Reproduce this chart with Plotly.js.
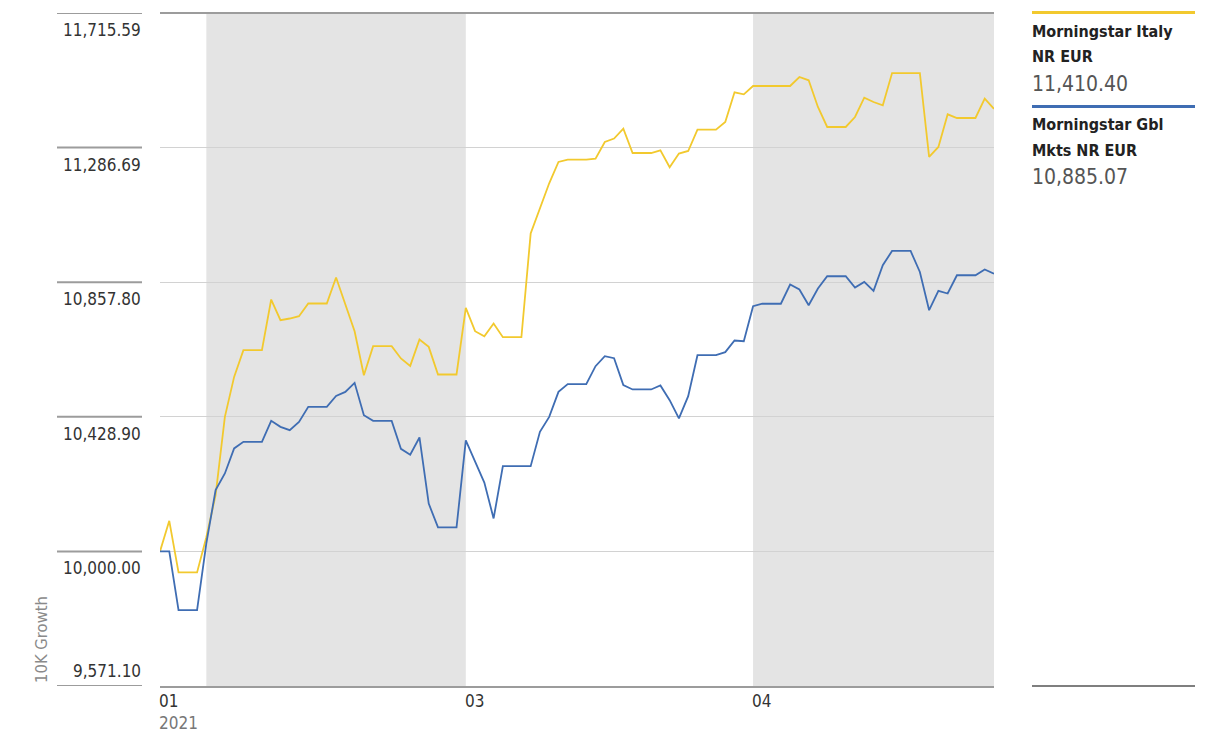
<!DOCTYPE html>
<html>
<head>
<meta charset="utf-8">
<script src="https://cdn.plot.ly/plotly-3.0.1.min.js"></script>
<style>
  html, body { margin: 0; padding: 0; background: #ffffff; }
  #chart { width: 1206px; height: 746px; }
</style>
</head>
<body>
<div id="chart"></div>
<script>
// ---------------- DATA ----------------
const dates = [
  '2021-01-27','2021-01-28','2021-01-29','2021-01-30','2021-01-31',
  '2021-02-01','2021-02-02','2021-02-03','2021-02-04','2021-02-05','2021-02-06','2021-02-07',
  '2021-02-08','2021-02-09','2021-02-10','2021-02-11','2021-02-12','2021-02-13','2021-02-14',
  '2021-02-15','2021-02-16','2021-02-17','2021-02-18','2021-02-19','2021-02-20','2021-02-21',
  '2021-02-22','2021-02-23','2021-02-24','2021-02-25','2021-02-26','2021-02-27','2021-02-28',
  '2021-03-01','2021-03-02','2021-03-03','2021-03-04','2021-03-05','2021-03-06','2021-03-07',
  '2021-03-08','2021-03-09','2021-03-10','2021-03-11','2021-03-12','2021-03-13','2021-03-14',
  '2021-03-15','2021-03-16','2021-03-17','2021-03-18','2021-03-19','2021-03-20','2021-03-21',
  '2021-03-22','2021-03-23','2021-03-24','2021-03-25','2021-03-26','2021-03-27','2021-03-28',
  '2021-03-29','2021-03-30','2021-03-31',
  '2021-04-01','2021-04-02','2021-04-03','2021-04-04','2021-04-05','2021-04-06','2021-04-07',
  '2021-04-08','2021-04-09','2021-04-10','2021-04-11','2021-04-12','2021-04-13','2021-04-14',
  '2021-04-15','2021-04-16','2021-04-17','2021-04-18','2021-04-19','2021-04-20','2021-04-21',
  '2021-04-22','2021-04-23','2021-04-24','2021-04-25','2021-04-26','2021-04-27'
];

const italyNR = [
  10000.0, 10097.5, 9933.1, 9933.1, 9933.1,
  10045.0, 10179.3, 10428.7, 10556.1, 10641.1, 10641.1, 10641.1,
  10802.6, 10736.7, 10742.1, 10749.4, 10789.9, 10789.9, 10789.9,
  10872.7, 10787.7, 10701.7, 10561.5, 10653.9, 10653.9, 10653.9,
  10614.7, 10591.1, 10675.2, 10651.7, 10563.7, 10563.7, 10563.7,
  10775.9, 10701.7, 10685.7, 10726.2, 10682.5, 10682.5, 10682.5,
  11012.8, 11093.4, 11173.0, 11240.9, 11248.5, 11248.5, 11248.5,
  11251.7, 11304.6, 11315.4, 11347.3, 11269.5, 11269.5, 11269.5,
  11278.1, 11224.0, 11267.6, 11275.9, 11344.1, 11344.1, 11344.1,
  11368.3, 11462.9, 11456.5,
  11482.9, 11482.9, 11482.9, 11482.9, 11482.9, 11511.6, 11501.1,
  11416.1, 11352.4, 11352.4, 11352.4, 11384.2, 11446.0, 11432.0,
  11421.5, 11524.3, 11524.3, 11524.3, 11524.3, 11256.8, 11288.7,
  11392.8, 11381.0, 11381.0, 11381.0, 11442.8, 11410.40
];

const gblMktsNR = [
  10000.0, 10000.0, 9813.0, 9813.0, 9813.0,
  10025.5, 10195.2, 10248.4, 10328.1, 10349.1, 10349.1, 10349.1,
  10416.0, 10396.9, 10386.3, 10412.8, 10460.6, 10460.6, 10460.6,
  10495.6, 10508.3, 10537.0, 10434.1, 10416.0, 10416.0, 10416.0,
  10326.8, 10308.3, 10363.1, 10152.2, 10076.4, 10076.4, 10076.4,
  10353.5, 10286.0, 10219.1, 10105.1, 10271.7, 10271.7, 10271.7,
  10271.7, 10380.9, 10428.7, 10508.3, 10532.9, 10532.9, 10532.9,
  10590.2, 10622.0, 10615.7, 10529.7, 10516.0, 10516.0, 10516.0,
  10528.7, 10481.9, 10423.6, 10494.6, 10625.2, 10625.2, 10625.2,
  10634.8, 10672.0, 10669.8,
  10781.3, 10789.2, 10789.2, 10789.2, 10850.4, 10834.5, 10784.5,
  10837.7, 10876.8, 10876.8, 10876.8, 10840.8, 10858.7, 10830.0,
  10911.9, 10957.4, 10957.4, 10957.4, 10890.5, 10768.5, 10830.0,
  10821.7, 10880.0, 10880.0, 10880.0, 10898.2, 10885.07
];

const seriesNameLines = [
  ['Morningstar Italy', 'NR EUR'],
  ['Morningstar Gbl', 'Mkts NR EUR']
];
const seriesLastText = ['11,410.40', '10,885.07'];

const yTickVals = [9571.10, 10000.00, 10428.90, 10857.80, 11286.69, 11715.59];
const yTickText = ['9,571.10', '10,000.00', '10,428.90', '10,857.80', '11,286.69', '11,715.59'];
const yAxisTitle = '10K Growth';

const xTickDates = ['2021-01-27', '2021-03-01', '2021-04-01'];
const xTickText  = ['01', '03', '04'];
const xTickYear  = ['2021', '', ''];

const shadeStart = ['2021-02-01', '2021-04-01'];
const shadeEnd   = ['2021-03-01', '2021-04-27'];

// ---------------- STYLE ----------------
const FONT = "'Liberation Sans Narrow', 'Arial Narrow', 'DejaVu Sans Condensed', sans-serif";
const YELLOW = '#F2C92E';
const BLUE = '#3F6DB3';
const colors = [YELLOW, BLUE];
const pxToPaperY = (py) => (686 - py) / 673;
const pxToPaperX = (px) => (px - 160) / 834;

const traces = [
  { x: dates, y: italyNR, type: 'scatter', mode: 'lines',
    line: { color: YELLOW, width: 1.8 }, hoverinfo: 'skip', name: seriesNameLines[0].join(' ') },
  { x: dates, y: gblMktsNR, type: 'scatter', mode: 'lines',
    line: { color: BLUE, width: 1.8 }, hoverinfo: 'skip', name: seriesNameLines[1].join(' ') }
];

const shapes = [];
shadeStart.forEach((s, i) => {
  shapes.push({ type: 'rect', xref: 'x', yref: 'paper', x0: s, x1: shadeEnd[i], y0: 0, y1: 1,
    fillcolor: '#e4e4e4', line: { width: 0 }, layer: 'below' });
});
// top frame line
shapes.push({ type: 'line', xref: 'paper', yref: 'paper', x0: 0, x1: 1, y0: 1, y1: 1,
  line: { color: '#9c9c9c', width: 2 } });
// left label rules
yTickVals.forEach(v => {
  shapes.push({ type: 'line', xref: 'paper', yref: 'y', x0: pxToPaperX(57), x1: pxToPaperX(142), y0: v, y1: v,
    line: { color: '#9c9c9c', width: 2 } });
});
// legend rules
const legendRuleY = [12.5, 106.5];
legendRuleY.forEach((py, i) => {
  shapes.push({ type: 'line', xref: 'paper', yref: 'paper', x0: pxToPaperX(1032), x1: pxToPaperX(1195),
    y0: pxToPaperY(py), y1: pxToPaperY(py), line: { color: colors[i], width: 3 } });
});
shapes.push({ type: 'line', xref: 'paper', yref: 'paper', x0: pxToPaperX(1032), x1: pxToPaperX(1195),
  y0: 0, y1: 0, line: { color: '#555555', width: 1.5 } });

const annotations = [];
yTickVals.forEach((v, i) => {
  const isBottom = i === 0;
  annotations.push({ xref: 'paper', yref: 'y', x: pxToPaperX(143), y: v, xanchor: 'right', yanchor: 'middle',
    yshift: isBottom ? 15 : -17, showarrow: false, text: yTickText[i],
    font: { family: FONT, size: 17, color: '#333333' } });
});
annotations.push({ xref: 'paper', yref: 'paper', x: pxToPaperX(41), y: pxToPaperY(640), textangle: -90,
  xanchor: 'center', yanchor: 'middle', showarrow: false, text: yAxisTitle,
  font: { family: FONT, size: 16.5, color: '#8a8a8a' } });
xTickDates.forEach((d, i) => {
  const txt = xTickYear[i] ? xTickText[i] + '<br><span style="color:#777777">' + xTickYear[i] + '</span>' : xTickText[i];
  annotations.push({ xref: 'x', yref: 'paper', x: d, y: 0, xanchor: 'left', yanchor: 'top', yshift: -3, xshift: -3,
    align: 'left', showarrow: false, text: txt, font: { family: FONT, size: 17, color: '#333333' } });
});
// legend text
const legendNameY = [[31, 57], [125, 150]];
const legendValY = [84, 177];
seriesNameLines.forEach((lines, i) => {
  lines.forEach((ln, j) => {
    annotations.push({ xref: 'paper', yref: 'paper', x: pxToPaperX(1030), y: pxToPaperY(legendNameY[i][j]),
      xanchor: 'left', yanchor: 'middle', showarrow: false, text: '<b>' + ln + '</b>',
      font: { family: FONT, size: 16, color: '#222222' } });
  });
  annotations.push({ xref: 'paper', yref: 'paper', x: pxToPaperX(1030), y: pxToPaperY(legendValY[i]),
    xanchor: 'left', yanchor: 'middle', showarrow: false, text: seriesLastText[i],
    font: { family: FONT, size: 21, color: '#555555' } });
});

const layout = {
  width: 1206, height: 746,
  margin: { l: 160, r: 212, t: 13, b: 60, pad: 0 },
  paper_bgcolor: '#ffffff', plot_bgcolor: '#ffffff',
  showlegend: false,
  xaxis: {
    type: 'date', range: [dates[0], dates[dates.length - 1]],
    showgrid: false, zeroline: false, showticklabels: false, ticks: '',
    showline: true, linecolor: '#9c9c9c', linewidth: 2, fixedrange: true
  },
  yaxis: {
    range: [yTickVals[0], yTickVals[yTickVals.length - 1]],
    tickmode: 'array', tickvals: yTickVals, showticklabels: false, ticks: '',
    showgrid: true, gridcolor: '#d2d2d2', gridwidth: 1, zeroline: false, showline: false, fixedrange: true
  },
  shapes: shapes,
  annotations: annotations,
  font: { family: FONT }
};

Plotly.newPlot('chart', traces, layout, { displayModeBar: false, staticPlot: true });
</script>
</body>
</html>
